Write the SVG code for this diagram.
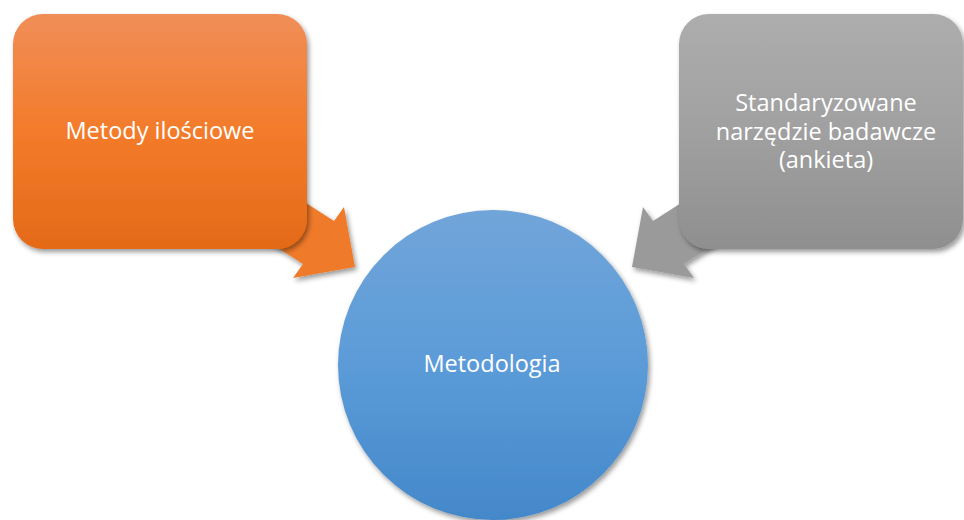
<svg xmlns="http://www.w3.org/2000/svg" width="964" height="520" viewBox="0 0 964 520">
  <defs>
    <linearGradient id="gOrange" x1="0" y1="0" x2="0" y2="1">
      <stop offset="0" stop-color="#F08E58"/>
      <stop offset="0.5" stop-color="#F37B2A"/>
      <stop offset="1" stop-color="#E46A18"/>
    </linearGradient>
    <linearGradient id="gGray" x1="0" y1="0" x2="0" y2="1">
      <stop offset="0" stop-color="#ADADAD"/>
      <stop offset="0.5" stop-color="#A0A0A0"/>
      <stop offset="1" stop-color="#8F8F8F"/>
    </linearGradient>
    <linearGradient id="gBlue" x1="0" y1="0" x2="0" y2="1">
      <stop offset="0" stop-color="#71A5D9"/>
      <stop offset="0.5" stop-color="#5B9BD8"/>
      <stop offset="1" stop-color="#4488CA"/>
    </linearGradient>
    <filter id="shadow" x="-20%" y="-20%" width="140%" height="140%">
      <feDropShadow dx="2" dy="3" stdDeviation="2.5" flood-color="#000" flood-opacity="0.4"/>
    </filter>
  </defs>
  <style>
    .lbl { font-family: "Open Sans", "Noto Sans", "DejaVu Sans", sans-serif; font-size: 23.5px; fill: #FFFFFF; text-anchor: middle; }
  </style>
  <rect width="964" height="520" fill="#FFFFFF"/>
  <g id="connectors">
    <polygon id="arrow-orange" filter="url(#shadow)" fill="#EF7A2A"
      points="209,141 334,221 344,207 355,267 293,278 303,264 178,184"/>
    <polygon id="arrow-gray" filter="url(#shadow)" fill="#9A9A9A"
      points="778,141 653,221 643,207 632,267 694,278 684,264 809,184"/>
  </g>
  <g id="node-metody">
    <rect x="13" y="14" width="294" height="235" rx="30" ry="30" fill="url(#gOrange)" filter="url(#shadow)"/>
    <text class="lbl" x="160" y="139">Metody ilościowe</text>
  </g>
  <g id="node-ankieta">
    <rect x="679" y="14" width="284" height="235" rx="30" ry="30" fill="url(#gGray)" filter="url(#shadow)"/>
    <text class="lbl" x="826" y="111">Standaryzowane</text>
    <text class="lbl" x="826" y="140">narzędzie badawcze</text>
    <text class="lbl" x="826" y="168">(ankieta)</text>
  </g>
  <g id="node-metodologia">
    <circle cx="493" cy="365" r="155" fill="url(#gBlue)" filter="url(#shadow)"/>
    <text class="lbl" x="492" y="372">Metodologia</text>
  </g>
</svg>
